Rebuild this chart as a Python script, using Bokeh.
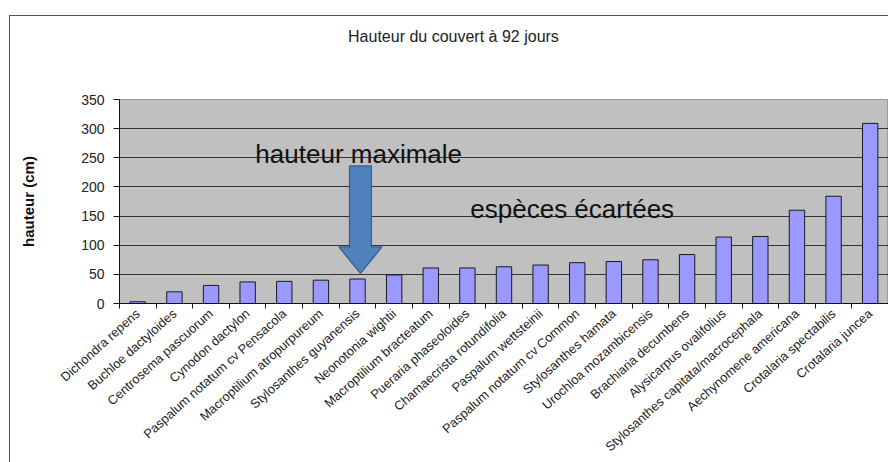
from bokeh.plotting import figure
from bokeh.models import FixedTicker, Label, Range1d, ColumnDataSource, InlineStyleSheet, LinearAxis
from bokeh.embed import file_html
from bokeh.resources import INLINE

species = [
    "Dichondra repens", "Buchloe dactyloides", "Centrosema pascuorum",
    "Cynodon dactylon", "Paspalum notatum cv Pensacola", "Macroptilium atropurpureum",
    "Stylosanthes guyanensis", "Neonotonia wightii", "Macroptilium bracteatum",
    "Pueraria phaseoloides", "Chamaecrista rotundifolia", "Paspalum wettsteinii",
    "Paspalum notatum cv Common", "Stylosanthes hamata", "Urochloa mozambicensis",
    "Brachiaria decumbens", "Alysicarpus ovalifolius", "Stylosanthes capitata/macrocephala",
    "Aechynomene americana", "Crotalaria spectabilis", "Crotalaria juncea",
]
hauteur = [3, 20, 31, 37, 38, 40, 42, 49, 61, 61, 63, 66, 70, 72, 75, 84, 114, 115, 160, 184, 309]
y_ticks = [0, 50, 100, 150, 200, 250, 300, 350]

title_text = "Hauteur du couvert à 92 jours"
y_label = "hauteur (cm)"
note_max = "hauteur maximale"
note_out = "espèces écartées"

idx = list(range(len(species)))
n = len(species)

p = figure(width=888, height=462, output_backend="svg", toolbar_location=None,
           x_range=Range1d(-0.5, n - 0.5), y_range=Range1d(0, 350),
           min_border_left=119, min_border_right=0, min_border_top=99, min_border_bottom=159)

p.background_fill_color = "#c0c0c0"
p.border_fill_color = "white"
p.outline_line_color = "#9a9a9a"

# outer chart border (left/top edges visible, the rest is cut off)
p.stylesheets = [InlineStyleSheet(css=(
    ":host { position: relative; } "
    ":host::after { content: ''; position: absolute; left: 9px; top: 15px; right: 0px; bottom: 0px; "
    "border-left: 1px solid #555; border-top: 1px solid #555; pointer-events: none; }"
))]

src = ColumnDataSource(dict(x=idx, top=hauteur))
p.vbar(x="x", top="top", width=0.42, source=src, fill_color="#9999ff",
       line_color="#1a1a1a", line_width=1)

# chart title, drawn as the single label of an otherwise invisible top axis
title_pos = 8.62
top_axis = LinearAxis(ticker=FixedTicker(ticks=[title_pos]),
                      major_label_overrides={title_pos: title_text},
                      axis_line_color=None, major_tick_line_color=None,
                      minor_tick_line_color=None, major_tick_out=0, major_tick_in=0,
                      major_label_standoff=55, major_label_text_font="Liberation Sans",
                      major_label_text_font_size="16px", major_label_text_color="#222222")
p.add_layout(top_axis, "above")

# axes
p.xgrid.visible = False
p.ygrid.ticker = FixedTicker(ticks=y_ticks)
p.ygrid.grid_line_color = "#333333"
p.ygrid.grid_line_width = 1

p.yaxis.ticker = FixedTicker(ticks=y_ticks)
p.yaxis.axis_line_color = "#111111"
p.yaxis.major_tick_line_color = "#111111"
p.yaxis.major_tick_out = 6
p.yaxis.major_tick_in = 0
p.yaxis.minor_tick_line_color = None
p.yaxis.major_label_text_font = "Liberation Sans"
p.yaxis.major_label_text_font_size = "14px"
p.yaxis.major_label_text_color = "#222222"
p.yaxis.major_label_standoff = 9
p.yaxis.axis_label = y_label
p.yaxis.axis_label_text_font = "Liberation Sans"
p.yaxis.axis_label_text_font_style = "bold"
p.yaxis.axis_label_text_font_size = "15px"
p.yaxis.axis_label_text_color = "#111111"
p.yaxis.axis_label_standoff = 41

xa = p.below[0]
xa.ticker = FixedTicker(ticks=idx, minor_ticks=[i - 0.5 for i in range(n + 1)])
xa.major_label_overrides = {i: s for i, s in enumerate(species)}
xa.major_label_orientation = 0.73
xa.major_tick_line_color = None
xa.major_tick_out = 0
xa.major_tick_in = 0
xa.minor_tick_line_color = "#111111"
xa.minor_tick_out = 5
xa.minor_tick_in = 0
xa.axis_line_color = "#111111"
xa.major_label_text_font = "Liberation Sans"
xa.major_label_text_font_size = "12.8px"
xa.major_label_text_color = "#222222"
xa.major_label_standoff = 3

# annotations
p.add_layout(Label(x=3.21, y=257, text=note_max, text_font="Liberation Sans",
                   text_font_size="26px", text_color="#111111", text_baseline="alphabetic"))
p.add_layout(Label(x=9.08, y=162, text=note_out, text_font="Liberation Sans",
                   text_font_size="26px", text_color="#111111", text_baseline="alphabetic"))

# block arrow
ax, shaft_hw, head_hw = 6.08, 0.30, 0.59
a_top, a_head, a_tip = 236, 97, 51.5
p.patch([ax - shaft_hw, ax + shaft_hw, ax + shaft_hw, ax + head_hw, ax, ax - head_hw, ax - shaft_hw],
        [a_top, a_top, a_head, a_head, a_tip, a_head, a_head],
        fill_color="#4f81bd", line_color="#385d8a", line_width=1.2)

open("out.html", "w").write(file_html(p, INLINE))
